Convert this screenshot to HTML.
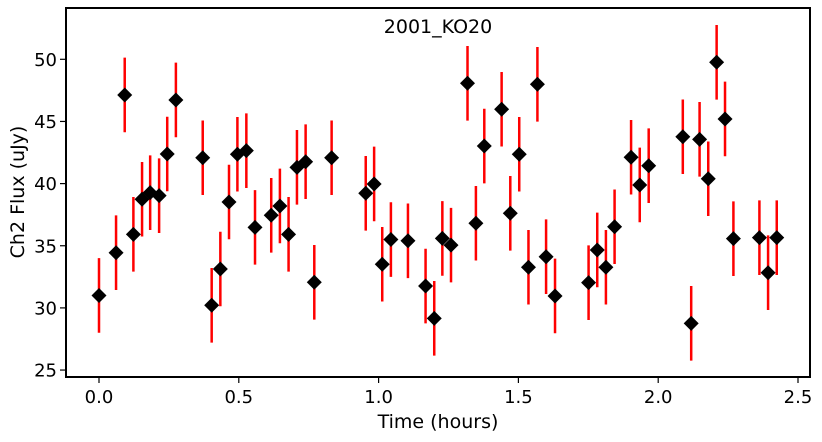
<!DOCTYPE html>
<html><head><meta charset="utf-8"><style>
body{margin:0;background:#fff}
svg text{font-family:"DejaVu Sans","Liberation Sans",sans-serif;fill:#000}
</style></head><body>
<svg id="chart" width="822" height="437" xmlns="http://www.w3.org/2000/svg">
<rect x="66" y="8" width="744" height="369" fill="#fff" stroke="#000" stroke-width="2"/>
<g id="marks"></g><g id="axes"></g>
<text x="438" y="33" font-size="19" text-anchor="middle">2001_KO20</text>
<text x="438" y="428" font-size="19" text-anchor="middle">Time (hours)</text>
<text transform="translate(24,192) rotate(-90)" font-size="19" text-anchor="middle">Ch2 Flux (uJy)</text>
</svg>
<script>
const times=[0,0.061,0.092,0.123,0.154,0.183,0.215,0.244,0.275,0.371,0.403,0.434,0.465,0.495,0.527,0.558,0.616,0.647,0.678,0.708,0.739,0.770,0.832,0.954,0.984,1.013,1.044,1.105,1.168,1.199,1.228,1.259,1.318,1.348,1.378,1.440,1.471,1.503,1.536,1.568,1.599,1.631,1.751,1.782,1.813,1.844,1.903,1.934,1.966,2.088,2.118,2.148,2.179,2.209,2.239,2.269,2.362,2.393,2.424];
const flux=[31.0,34.44,47.13,35.92,38.74,39.27,39.03,42.38,46.73,42.08,30.21,33.13,38.52,42.36,42.65,36.48,37.45,38.2,35.92,41.31,41.76,32.06,42.08,39.22,39.97,33.51,35.5,35.4,31.76,29.16,35.59,35.05,48.07,36.81,43.02,45.98,37.61,42.36,33.27,47.99,34.12,30.96,32.03,34.66,33.27,36.53,42.12,39.89,41.44,43.77,28.76,43.56,40.39,49.76,45.2,35.57,35.65,32.83,35.65];
const errs=[3,3,3,3,3,3,3,3,3,3,3,3,3,3,3,3,3,3,3,3,3,3,3,3,3,3,3,3,3,3,3,3,3,3,3,3,3,3,3,3,3,3,3,3,3,3,3,3,3,3,3,3,3,3,3,3,3,3,3];
const xTicks=[0,0.5,1.0,1.5,2.0,2.5];
const xTickLabels=["0.0","0.5","1.0","1.5","2.0","2.5"];
const yTicks=[25,30,35,40,45,50];
const yTickLabels=["25","30","35","40","45","50"];
const NS="http://www.w3.org/2000/svg";
function X(t){return 99+t*279.6;}
function Y(v){return 59.3+(50-v)*12.43;}
function mk(tag,attrs,parent){const e=document.createElementNS(NS,tag);for(const k in attrs)e.setAttribute(k,attrs[k]);parent.appendChild(e);return e;}
const marks=document.getElementById('marks'),axes=document.getElementById('axes');
times.forEach((t,i)=>{
  const x=X(t);
  const l=mk('line',{x1:x,x2:x,y1:Y(flux[i]+errs[i]),y2:Y(flux[i]-errs[i]),stroke:'#ff0000','stroke-width':2.5},marks);
  
  
});
times.forEach((t,i)=>{
  const x=X(t),y=Y(flux[i]),r=7.5;
  const p=mk('polygon',{points:`${x},${y-r} ${x+r},${y} ${x},${y+r} ${x-r},${y}`,fill:'#000'},marks);
  
  
});
xTicks.forEach((t,i)=>{
  const x=X(t);
  const tk=mk('line',{x1:x,x2:x,y1:377,y2:383,stroke:'#000','stroke-width':1.2},axes);
  
  
  const tx=mk('text',{x:x,y:403,'font-size':18,'text-anchor':'middle'},axes);
  tx.textContent=xTickLabels[i];
  
  
});
yTicks.forEach((v,i)=>{
  const y=Y(v);
  const tk=mk('line',{x1:60,x2:66,y1:y,y2:y,stroke:'#000','stroke-width':1.2},axes);
  
  
  const tx=mk('text',{x:57,y:y+6.5,'font-size':18,'text-anchor':'end'},axes);
  tx.textContent=yTickLabels[i];
  
  
});
</script>
</body></html>
